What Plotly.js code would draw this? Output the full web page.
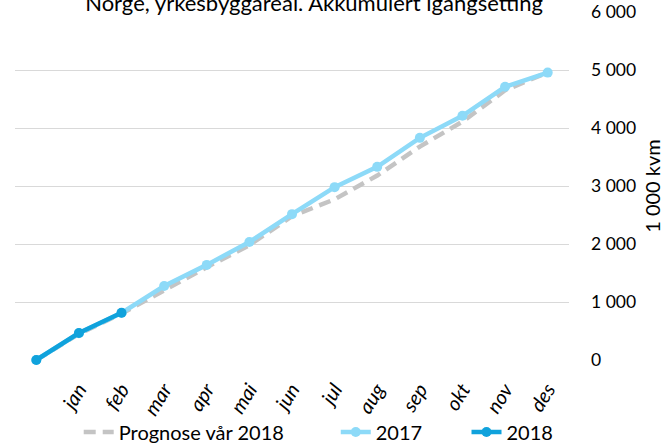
<!DOCTYPE html>
<html>
<head>
<meta charset="utf-8">
<script src="https://cdn.plot.ly/plotly-3.0.1.min.js"></script>
<style>html,body{margin:0;padding:0;background:#fff}#chart{width:664px;height:443px}</style>
</head>
<body>
<div id="chart"></div>
<script>
const months = ['', 'jan', 'feb', 'mar', 'apr', 'mai', 'jun', 'jul', 'aug', 'sep', 'okt', 'nov', 'des'];
const prognose2018 = [0, 450, 800, 1210, 1600, 1980, 2480, 2770, 3180, 3680, 4110, 4650, 4960];
const values2017 = [0, 460, 810, 1275, 1640, 2035, 2515, 2980, 3330, 3830, 4210, 4710, 4955];
const values2018 = [0, 465, 815, null, null, null, null, null, null, null, null, null, null];
const yTicks = [0, 1000, 2000, 3000, 4000, 5000, 6000];

const xIdx = months.map((_, i) => i);
const FONT = 'Lato, "Liberation Sans", sans-serif';

const traces = [
  {
    x: xIdx, y: prognose2018, name: 'Prognose vår 2018', mode: 'lines',
    line: {color: '#c4c4c4', width: 4.5, dash: '12px,7px'}, cliponaxis: false,
    legend: 'legend'
  },
  {
    x: xIdx, y: values2017, name: '2017', mode: 'lines+markers',
    line: {color: '#8ddaf8', width: 4.5}, marker: {color: '#8ddaf8', size: 10}, cliponaxis: false,
    legend: 'legend2'
  },
  {
    x: xIdx, y: values2018, name: '2018', mode: 'lines+markers',
    line: {color: '#10a2dc', width: 4.5}, marker: {color: '#10a2dc', size: 10}, cliponaxis: false,
    legend: 'legend3'
  }
];

const legendBase = {orientation: 'h', yanchor: 'middle', xanchor: 'left', yref: 'container', y: 0.025,
  font: {family: FONT, size: 20, color: '#000'}, bgcolor: 'rgba(0,0,0,0)'};

const layout = {
  width: 664, height: 443,
  margin: {l: 15, r: 95, t: 12, b: 83},
  paper_bgcolor: '#fff', plot_bgcolor: '#fff',
  separators: ', ',
  font: {family: FONT, size: 18, color: '#000'},
  title: {text: 'Norge, yrkesbyggareal. Akkumulert igangsetting', x: 0.473, xref: 'container', xanchor: 'center',
          y: 0.993, yref: 'container', yanchor: 'middle', font: {family: FONT, size: 22, color: '#000'}},
  xaxis: {
    range: [-0.5, 12.5], tickvals: xIdx.slice(1), ticktext: months.slice(1),
    tickangle: -58, tickfont: {family: FONT, size: 20, style: 'italic', color: '#000'},
    showgrid: false, zeroline: false, showline: false, ticks: '', fixedrange: true,
    ticklabelstandoff: 13, automargin: false
  },
  yaxis: {
    side: 'right', range: [0, 6000], tickvals: yTicks, tickformat: ',.0f',
    showgrid: true, gridcolor: '#d9d9d9', gridwidth: 1, zeroline: false, showline: false, ticks: '',
    tickfont: {family: FONT, size: 17.5, color: '#000'}, ticklabelstandoff: 21, automargin: false,
    title: {text: '1 000 kvm', font: {family: FONT, size: 20, color: '#000'}, standoff: 11}
  },
  showlegend: true,
  legend: Object.assign({}, legendBase, {x: 0.115}),
  legend2: Object.assign({}, legendBase, {x: 0.579}),
  legend3: Object.assign({}, legendBase, {x: 0.815})
};

Plotly.newPlot('chart', traces, layout, {displayModeBar: false, staticPlot: true});
</script>
</body>
</html>
